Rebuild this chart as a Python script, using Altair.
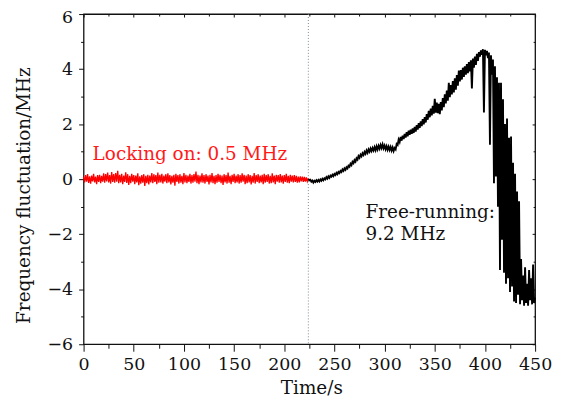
import altair as alt
import pandas as pd

FONT = "DejaVu Serif, Liberation Serif, serif"

# ---- data ----
red_start = 0  # s, one sample per second
red_values = [
    0.08, -0.12, 0.15, -0.09, 0.18, -0.14, 0.10, -0.16, 0.13, -0.08, 0.19, -0.12, 0.09, -0.18, 0.15,
    -0.10, 0.16, -0.15, 0.12, -0.09, 0.21, -0.13, 0.18, -0.08, 0.24, -0.12, 0.15, -0.16, 0.26, -0.10,
    0.18, -0.13, 0.22, -0.09, 0.30, -0.15, 0.16, -0.12, 0.19, -0.18, 0.13, -0.10, 0.25, -0.14, 0.18,
    -0.21, 0.12, -0.15, 0.19, -0.09, 0.15, -0.18, 0.13, -0.12, 0.21, -0.22, 0.10, -0.16, 0.15, -0.13,
    0.18, -0.25, 0.12, -0.15, 0.16, -0.19, 0.13, -0.12, 0.22, -0.15, 0.18, -0.10, 0.15, -0.18, 0.24,
    -0.13, 0.16, -0.12, 0.19, -0.16, 0.13, -0.09, 0.18, -0.15, 0.21, -0.12, 0.15, -0.19, 0.12, -0.13,
    0.16, -0.24, 0.19, -0.10, 0.15, -0.16, 0.18, -0.13, 0.12, -0.18, 0.22, -0.12, 0.16, -0.15, 0.13,
    -0.10, 0.19, -0.16, 0.15, -0.13, 0.18, -0.09, 0.28, -0.15, 0.16, -0.18, 0.13, -0.12, 0.21, -0.13,
    0.15, -0.16, 0.18, -0.10, 0.13, -0.19, 0.16, -0.12, 0.22, -0.15, 0.12, -0.18, 0.15, -0.13, 0.19,
    -0.10, 0.16, -0.15, 0.13, -0.21, 0.18, -0.12, 0.15, -0.16, 0.24, -0.13, 0.12, -0.18, 0.16, -0.10,
    0.19, -0.15, 0.13, -0.12, 0.18, -0.16, 0.15, -0.13, 0.21, -0.09, 0.16, -0.18, 0.13, -0.15, 0.18,
    -0.12, 0.15, -0.19, 0.12, -0.13, 0.22, -0.16, 0.15, -0.10, 0.18, -0.15, 0.13, -0.12, 0.16, -0.18,
    0.19, -0.13, 0.15, -0.10, 0.18, -0.16, 0.12, -0.15, 0.21, -0.12, 0.13, -0.18, 0.16, -0.09, 0.15,
    -0.13, 0.18, -0.12, 0.13, -0.16, 0.15, -0.10, 0.19, -0.13, 0.12, -0.15, 0.16, -0.09, 0.13, -0.12,
    0.15, -0.10, 0.12, -0.13, 0.09, -0.12, 0.10, -0.08, 0.09, -0.10, 0.08, -0.09, 0.06, -0.08, 0.03,
]

black_start = 224  # s, one sample per second
black_values = [
    0.00, -0.04, -0.02, -0.09, -0.05, -0.12, -0.06, -0.10, -0.04, -0.09,
    -0.03, -0.08, -0.01, -0.06, 0.01, -0.04, 0.03, -0.01, 0.07, 0.02,
    0.10, 0.05, 0.13, 0.09, 0.16, 0.11, 0.19, 0.15, 0.23, 0.18,
    0.26, 0.22, 0.30, 0.26, 0.35, 0.30, 0.39, 0.34, 0.43, 0.39,
    0.49, 0.45, 0.56, 0.51, 0.63, 0.58, 0.69, 0.64, 0.76, 0.71,
    0.84, 0.78, 0.89, 0.83, 0.94, 0.88, 0.99, 0.92, 1.04, 0.96,
    1.08, 1.00, 1.11, 1.02, 1.13, 1.04, 1.16, 1.05, 1.19, 1.08,
    1.21, 1.11, 1.24, 1.13, 1.26, 1.12, 1.22, 1.09, 1.20, 1.07,
    1.18, 1.06, 1.17, 1.04, 1.15, 1.02, 1.13, 1.08, 1.28, 1.24,
    1.44, 1.35, 1.53, 1.40, 1.58, 1.46, 1.64, 1.51, 1.71, 1.56,
    1.76, 1.61, 1.80, 1.65, 1.84, 1.68, 1.90, 1.73, 1.96, 1.80,
    2.04, 1.86, 2.10, 1.93, 2.18, 1.99, 2.25, 2.06, 2.36, 2.16,
    2.48, 2.25, 2.56, 2.32, 2.66, 2.38, 2.92, 2.42, 2.78, 2.40,
    2.74, 2.36, 2.80, 2.50, 2.95, 2.62, 3.08, 2.75, 3.22, 2.85,
    3.50, 2.98, 3.42, 3.08, 3.56, 3.15, 3.66, 3.25, 3.78, 3.40,
    3.95, 3.55, 3.96, 3.62, 4.05, 3.72, 4.10, 3.80, 4.18, 3.85,
    4.25, 3.92, 4.32, 3.30, 4.38, 4.05, 4.45, 4.15, 4.55, 4.30,
    4.62, 4.45, 4.68, 4.52, 4.72, 2.42, 4.70, 4.50, 4.66, 4.40,
    4.60, 1.25, 4.50, 3.80, 4.35, -0.15, 4.10, 0.10, 3.70, -1.00,
    3.50, -3.30, 3.50, -2.20, 2.90, -3.40, 2.00, -3.80, 2.20, -3.60,
    1.50, -4.10, 1.55, -3.90, 0.60, -4.45, 0.20, -4.50, -0.45, -4.20,
    -0.80, -4.55, -2.90, -4.40, -3.50, -4.60, -3.20, -4.50, -3.80, -4.60,
    -3.30, -4.40, -3.60, -4.55, -3.10, -4.50, -4.30,
]

switch_time = [224]

x_major = [0, 50, 100, 150, 200, 250, 300, 350, 400, 450]
x_minor = [25, 75, 125, 175, 225, 275, 325, 375, 425]
y_major = [-6, -4, -2, 0, 2, 4, 6]
y_minor = [-5, -3, -1, 1, 3, 5]

red_note_text = ["Locking on: 0.5 MHz"]
red_note_t = [9]
red_note_v = [0.69]
black_note_text = ["Free-running:", "9.2 MHz"]
black_note_t = [281, 281]
black_note_v = [-1.41, -2.22]

# ---- tables ----
red_df = pd.DataFrame({"t": list(range(red_start, red_start + len(red_values))), "v": red_values})
black_df = pd.DataFrame({"t": list(range(black_start, black_start + len(black_values))), "v": black_values})
rule_df = pd.DataFrame({"t": switch_time})
red_note_df = pd.DataFrame({"t": red_note_t, "v": red_note_v, "label": red_note_text})
black_note_df = pd.DataFrame({"t": black_note_t, "v": black_note_v, "label": black_note_text})

xs = alt.Scale(domain=[0, 450], nice=False, zero=False)
ys = alt.Scale(domain=[-6, 6], nice=False, zero=False)

rule = alt.Chart(rule_df).mark_rule(color="#6f7f86", strokeDash=[1, 2], strokeWidth=0.9).encode(
    x=alt.X("t:Q", scale=xs, axis=None)
)

red_line = alt.Chart(red_df).mark_line(color="#ff0000", strokeWidth=1.3).encode(
    x=alt.X("t:Q", scale=xs, axis=alt.Axis(
        orient="bottom", values=x_major, tickSize=7, labelPadding=4,
        labelFlush=False, labelOverlap=False,
        title="Time/s", titleX=229, titleY=50, titleBaseline="alphabetic", titleAlign="center")),
    y=alt.Y("v:Q", scale=ys, axis=alt.Axis(
        orient="left", values=y_major, tickSize=5, labelPadding=6,
        labelFlush=False, labelOverlap=False,
        labelOffset={"condition": {"test": "datum.value == 6", "value": 3}, "value": 0},
        title="Frequency fluctuation/MHz", titleX=-60, titleY=182, titleAngle=270,
        titleBaseline="middle", titleAlign="center")),
)

black_line = alt.Chart(black_df).mark_line(color="#000000", strokeWidth=1.9).encode(
    x=alt.X("t:Q", scale=xs, axis=alt.Axis(
        orient="bottom", values=x_minor, tickSize=4, labels=False, title="")),
    y=alt.Y("v:Q", scale=ys, axis=alt.Axis(
        orient="left", values=y_minor, tickSize=3, labels=False, title="")),
)

red_note = alt.Chart(red_note_df).mark_text(
    align="left", baseline="alphabetic", font=FONT, fontSize=18.5, color="#ff1a1a"
).encode(
    x=alt.X("t:Q", scale=xs, axis=alt.Axis(
        orient="top", values=x_major, tickSize=3, offset=-3, labels=False, title="")),
    y=alt.Y("v:Q", scale=ys, axis=alt.Axis(
        orient="right", values=y_major, tickSize=3, offset=-3, labels=False, title="")),
    text="label:N",
)

black_note = alt.Chart(black_note_df).mark_text(
    align="left", baseline="alphabetic", font=FONT, fontSize=18.5, color="#111111"
).encode(
    x=alt.X("t:Q", scale=xs, axis=alt.Axis(
        orient="top", values=x_minor, tickSize=2, offset=-2, labels=False, title="")),
    y=alt.Y("v:Q", scale=ys, axis=alt.Axis(
        orient="right", values=y_minor, tickSize=2, offset=-2, labels=False, title="")),
    text="label:N",
)

chart = (
    alt.layer(rule, red_line, black_line, red_note, black_note)
    .resolve_axis(x="independent", y="independent")
    .properties(
        width=454, height=332,
        autosize=alt.AutoSizeParams(type="none"),
        padding={"left": 76, "top": 5, "right": 20, "bottom": 60},
        background="white",
    )
    .configure_view(stroke="#111111", strokeWidth=1.3)
    .configure_axis(
        labelFont=FONT, titleFont=FONT, labelFontSize=17.5, titleFontSize=18.5,
        titleFontWeight="normal", labelColor="#111111", titleColor="#111111",
        tickColor="#111111", tickWidth=1, domain=False, grid=False,
    )
)

chart.save("out.html", embed_options={"renderer": "svg", "actions": False})
